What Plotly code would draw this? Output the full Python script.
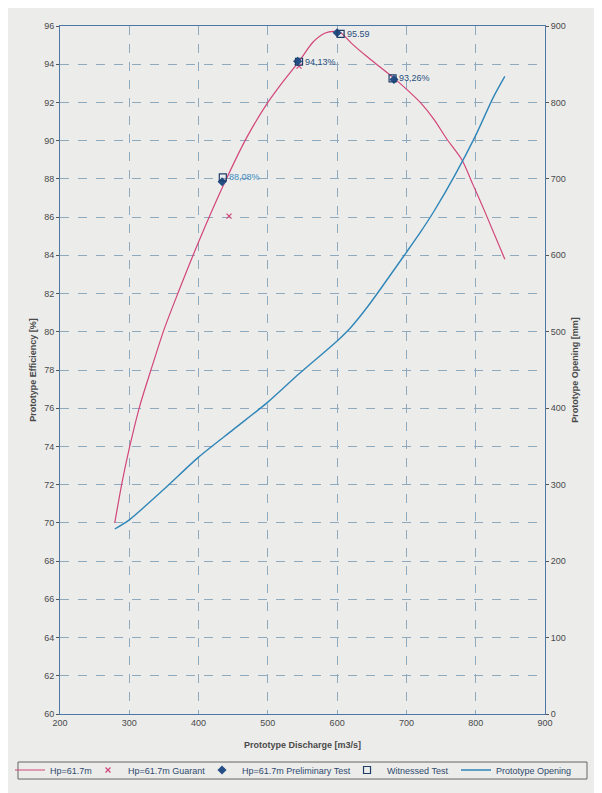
import plotly.graph_objects as go

# Efficiency curve Hp=61.7m
eff_q = [279, 290, 300, 315, 333, 350, 370, 400, 435, 470, 500, 520, 545, 565, 582, 595, 605, 622, 643, 662, 681, 700, 720, 740, 758, 780, 796, 813, 842]
eff_v = [70.0, 72.2, 73.9, 76.1, 78.2, 80.1, 82.0, 84.7, 87.6, 90.2, 92.0, 93.0, 94.15, 95.15, 95.62, 95.72, 95.65, 95.05, 94.4, 93.85, 93.3, 92.7, 92.0, 91.1, 90.1, 89.0, 87.7, 86.3, 83.8]

# Guarantee points
gua_q = [444, 545]
gua_v = [86.05, 93.9]

# Preliminary test points
pre_q = [434, 543, 600, 682]
pre_v = [87.85, 94.15, 95.65, 93.2]

# Witnessed test points
wit_q = [435, 545, 605, 680]
wit_v = [88.08, 94.13, 95.59, 93.26]
wit_lbl = ["88,08%", "94,13%", "95.59", "93,26%"]
wit_lbl_col = ["#3f8cc4", "#2a4f80", "#2a4f80", "#2a4f80"]

# Prototype opening curve
op_q = [279, 300, 350, 400, 450, 500, 545, 600, 620, 645, 700, 720, 740, 770, 800, 825, 842]
op_mm = [242, 254, 294, 336, 372, 408, 445, 488, 506, 534, 604, 630, 658, 705, 757, 806, 834]

x_ticks = [200, 300, 400, 500, 600, 700, 800, 900]
y_ticks = list(range(60, 97, 2))
y2_ticks = list(range(0, 901, 100))

PINK = "#d2457a"
BLUE = "#2f86b8"
NAVY = "#234f86"
GRID = "#8fa9bf"
TXT = "#4a4a4a"
LEGTXT = "#2f4a6e"
FONT = "Liberation Sans, Arial, sans-serif"

fig = go.Figure()
fig.add_trace(go.Scatter(x=eff_q, y=eff_v, mode="lines", name="Hp=61.7m", legend="legend",
                         line=dict(color=PINK, width=1.2, shape="spline", smoothing=0.8)))
fig.add_trace(go.Scatter(x=gua_q, y=gua_v, mode="markers", name="Hp=61.7m Guarant", legend="legend2",
                         marker=dict(symbol="x-thin", size=5, line=dict(color=PINK, width=1.2), color=PINK)))
fig.add_trace(go.Scatter(x=pre_q, y=pre_v, mode="markers", name="Hp=61.7m Preliminary Test", legend="legend3",
                         marker=dict(symbol="diamond", size=7, color=NAVY)))
fig.add_trace(go.Scatter(x=wit_q, y=wit_v, mode="markers", name="Witnessed Test", legend="legend4",
                         marker=dict(symbol="square-open", size=7, color="#1f3f6a", line=dict(width=1.2))))
fig.add_trace(go.Scatter(x=op_q, y=op_mm, mode="lines", name="Prototype Opening", yaxis="y2", legend="legend5",
                         line=dict(color=BLUE, width=1.4, shape="spline", smoothing=0.7)))

for q, v, t, c in zip(wit_q, wit_v, wit_lbl, wit_lbl_col):
    fig.add_annotation(x=q, y=v, text=t, showarrow=False, xanchor="left", yanchor="middle",
                       xshift=4, font=dict(size=9, color=c, family=FONT))

# legend frame
fig.add_shape(type="rect", xref="paper", yref="paper", x0=-0.0866, x1=1.0866, y0=-0.0945, y1=-0.0698,
              line=dict(color="#666", width=1), fillcolor="rgba(0,0,0,0)", layer="above")

leg_common = dict(orientation="h", xanchor="left", yanchor="top", y=-0.0603, bgcolor="rgba(0,0,0,0)",
                  borderwidth=0, font=dict(size=9, color=LEGTXT), itemwidth=30, tracegroupgap=0)

fig.update_layout(
    width=594, height=785,
    margin=dict(l=52, r=57, t=18, b=79, autoexpand=False),
    paper_bgcolor="#ececea", plot_bgcolor="#ececea",
    font=dict(family=FONT, size=9, color=TXT),
    showlegend=True,
    legend=dict(x=-0.1031, **leg_common),
    legend2=dict(x=0.0577, **leg_common),
    legend3=dict(x=0.2928, **leg_common),
    legend4=dict(x=0.5918, **leg_common),
    legend5=dict(x=0.8165, **leg_common),
    xaxis=dict(range=[200, 900], tickvals=x_ticks, showgrid=True, gridcolor=GRID, griddash="dash",
               gridwidth=1, zeroline=False, showline=True, linecolor="#4b78a6", mirror=True,
               ticks="", tickfont=dict(size=9, color=TXT), automargin=False,
               title=dict(text="<b>Prototype Discharge [m3/s]</b>", font=dict(size=9, color=TXT), standoff=14)),
    yaxis=dict(range=[60, 96], tickvals=y_ticks, showgrid=True, gridcolor=GRID, griddash="dash",
               gridwidth=1, zeroline=False, showline=True, linecolor="#4b78a6", mirror=True,
               ticks="outside", ticklen=3, tickcolor="#555", tickfont=dict(size=9, color=TXT),
               automargin=False,
               title=dict(text="<b>Prototype Efficiency [%]</b>", font=dict(size=9, color=TXT), standoff=6)),
    yaxis2=dict(range=[0, 900], tickvals=y2_ticks, overlaying="y", side="right", showgrid=False,
                zeroline=False, showline=True, linecolor="#4b78a6", ticks="outside", ticklen=3,
                tickcolor="#555", tickfont=dict(size=9, color=TXT), automargin=False,
                title=dict(text="<b>Prototype Opening [mm]</b>", font=dict(size=9, color=TXT), standoff=6)),
)

fig.write_html("out.html")
